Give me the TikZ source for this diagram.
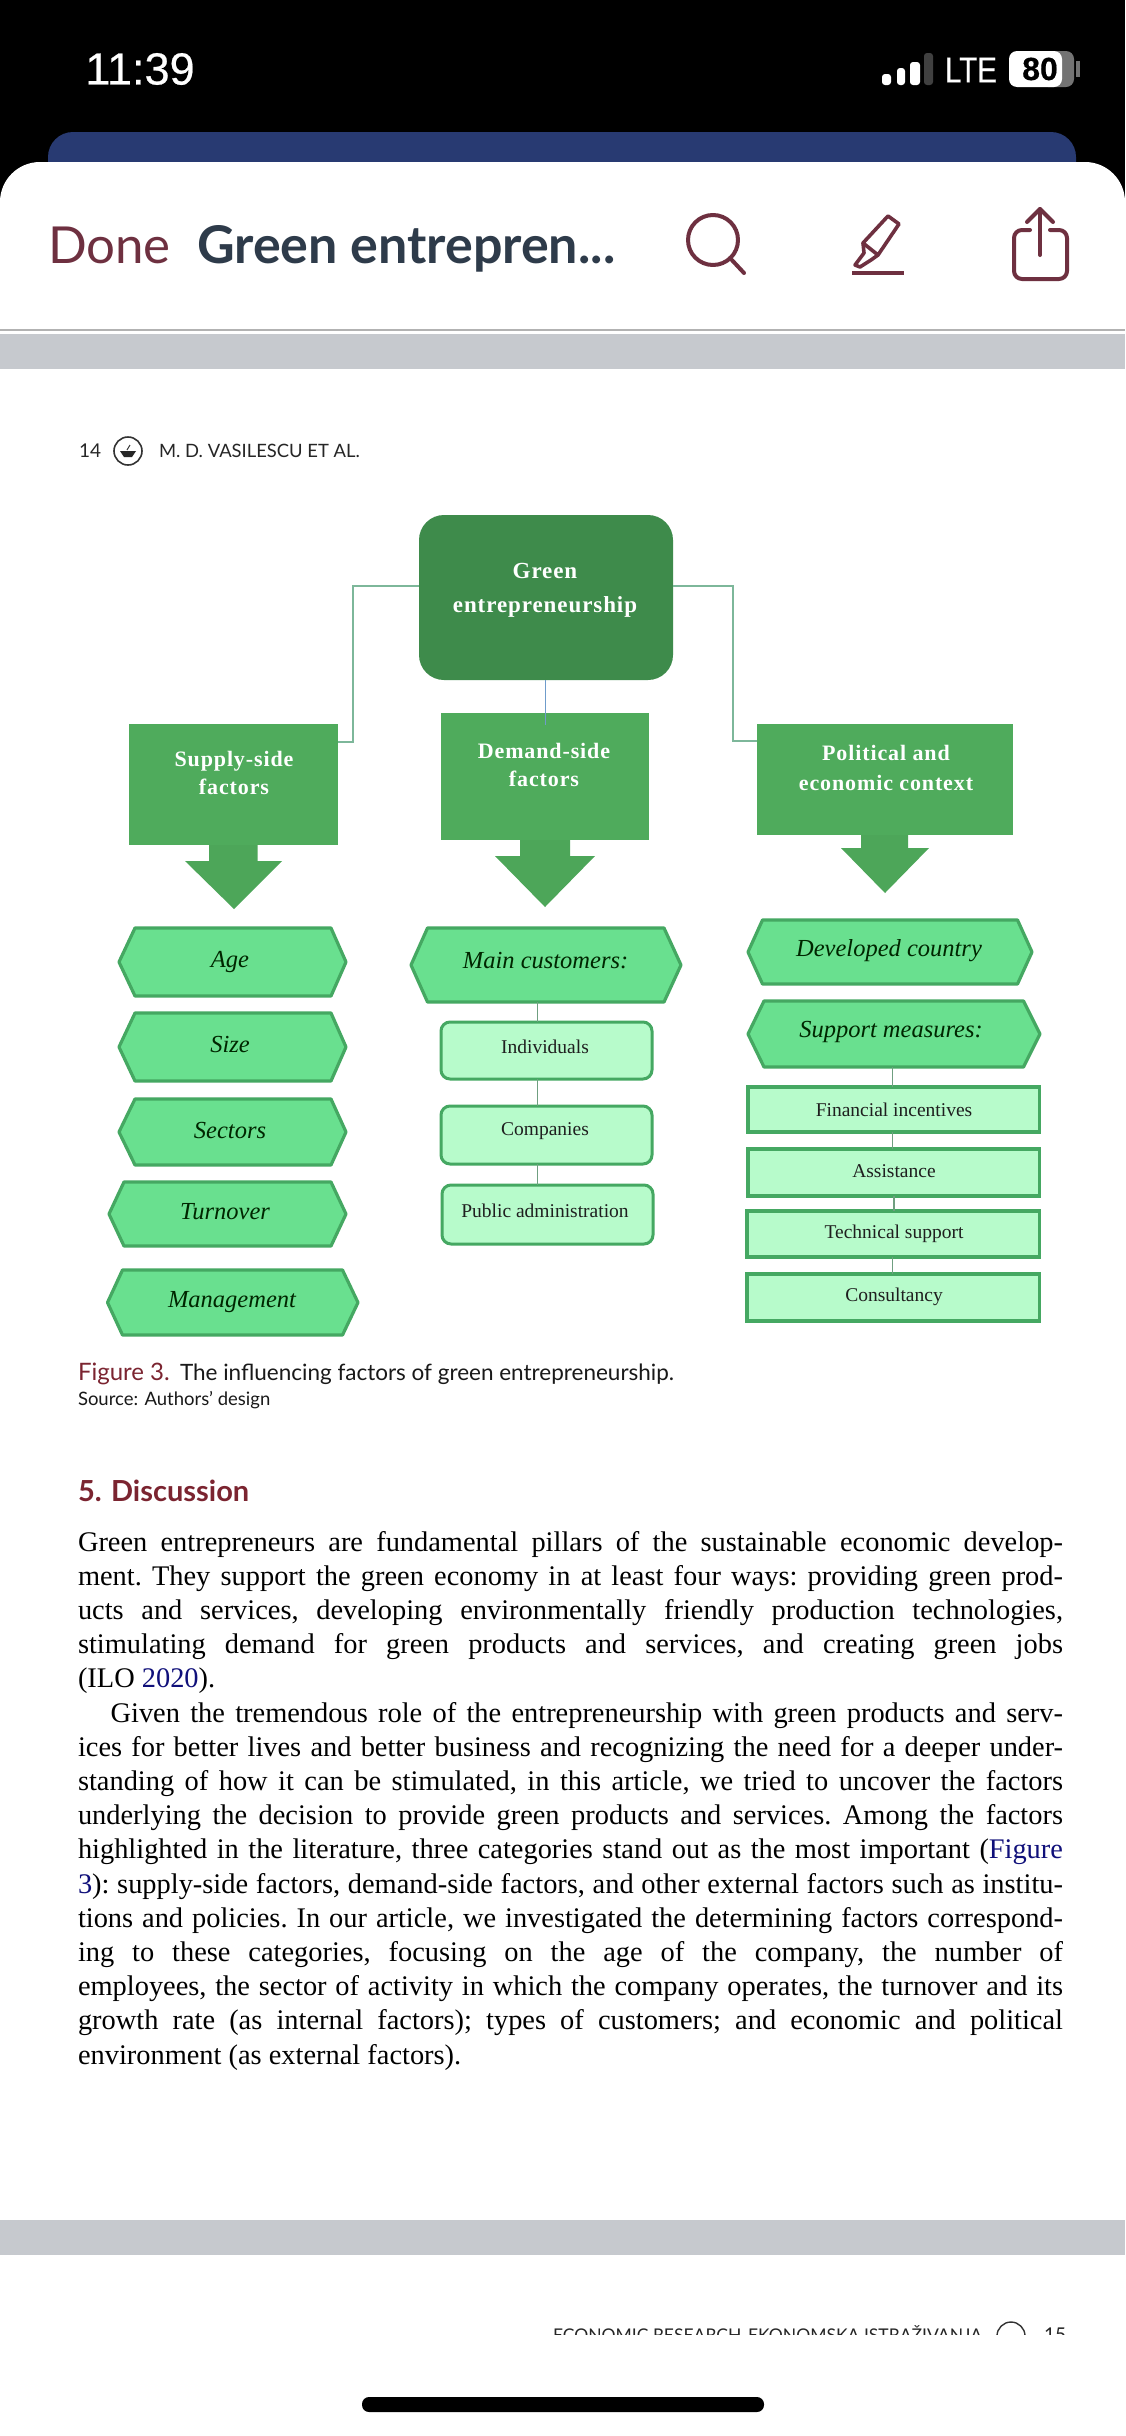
\documentclass[tikz,border=0pt]{standalone}
\usepackage{fontspec}
\setmainfont{Liberation Serif}
\newfontfamily\serS[LetterSpace=4]{Liberation Serif}
\newfontfamily\osans{Lato}
\newfontfamily\lsans[FakeBold=0.5]{Liberation Sans}
\newcommand{\fsz}[1]{\fontsize{#1}{#1}\selectfont}
\definecolor{maroonui}{HTML}{6E3040}
\definecolor{maroontx}{HTML}{7B2430}
\definecolor{titleink}{HTML}{2E3B4A}
\definecolor{navycard}{HTML}{283A72}
\definecolor{bandgray}{HTML}{C6C9CE}
\definecolor{rootgreen}{HTML}{3E8B4B}
\definecolor{midgreen}{HTML}{4FAB5C}
\definecolor{hexfill}{HTML}{69E08F}
\definecolor{hexline}{HTML}{45A862}
\definecolor{lightfill}{HTML}{B7FBCB}
\definecolor{linkgreen}{HTML}{7DB79A}
\definecolor{linkblue}{HTML}{6F9CCB}
\definecolor{linkdark}{HTML}{6F9F80}
\definecolor{refblue}{HTML}{10107A}
\tikzset{
  rootbox/.style={fill=rootgreen,rounded corners=25pt},
  factorbox/.style={fill=midgreen},
  arrowshape/.style={fill=midgreen!97!black},
  hexshape/.style={fill=hexfill,draw=hexline,line width=3.2pt,line join=round},
  softbox/.style={fill=lightfill,draw=hexline,line width=3pt,rounded corners=9pt},
  flatbox/.style={fill=lightfill,draw=hexline,line width=3.2pt},
  link/.style={draw=linkdark,line width=1.4pt},
  elbow/.style={draw=linkgreen,line width=2pt},
  headtext/.style={text=white,align=center,font=\serS\bfseries\fsz{22}},
  hextext/.style={text=black!85!green,font=\itshape\fsz{24.5}},
  subtext/.style={text=black!88,font=\fsz{19.5}},
  icon/.style={draw=maroonui,line width=4pt,line cap=round,line join=round},
  txt/.style={inner sep=0pt,outer sep=0pt,anchor=base west},
}
% name, left, right, top, bottom, style
\newcommand{\boxnode}[6]{%
  \pgfmathsetmacro{\bw}{#3-#2}\pgfmathsetmacro{\bh}{#5-#4}%
  \pgfmathsetmacro{\cxx}{(#2+#3)/2}\pgfmathsetmacro{\cyy}{(#4+#5)/2}%
  \node[#6,inner sep=0pt,outer sep=0pt,minimum width=\bw pt,minimum height=\bh pt] (#1) at (\cxx,\cyy) {};}
% name, left tip, left shoulder, right shoulder, right tip, top, bottom
\newcommand{\hexnode}[7]{%
  \pgfmathsetmacro{\cyy}{(#6+#7)/2}%
  \draw[hexshape] (#2,\cyy) -- (#3,#6) -- (#4,#6) -- (#5,\cyy) -- (#4,#7) -- (#3,#7) -- cycle;
  \boxnode{#1}{#2}{#5}{#6}{#7}{}}
\newcommand{\bline}[3]{\node[txt] (#1) at (78,#2) {\makebox[985pt][s]{\frenchspacing\fsz{28.4}#3}};}
\begin{document}
\begin{tikzpicture}[x=1pt,y=-1pt]
\useasboundingbox (0,0) rectangle (1125,2436);
% phone chrome
\fill[white] (0,0) rectangle (1125,2436);
\fill[black] (0,0) rectangle (1125,300);
\fill[navycard,rounded corners=25pt] (48,132) rectangle (1076,220);
\fill[white,rounded corners=40pt] (0,162) rectangle (1125,400);
\fill[white] (0,300) rectangle (1125,340);
\node[inner sep=0pt,text=white,font=\lsans\fsz{45}] (clock) at (140,69) {11:39};
\fill[white,rounded corners=3pt] (882,74) rectangle (891,85);
\fill[white,rounded corners=3pt] (897,68) rectangle (905,85);
\fill[white,rounded corners=3pt] (910,62) rectangle (920,85);
\fill[black!75,rounded corners=3pt] (924,53) rectangle (933,85);
\node[inner sep=0pt,text=white,font=\lsans\fsz{36}] (lte) at (971,70) {\scalebox{0.82}[1]{LTE}};
\fill[black!55,rounded corners=8pt] (1040,51) rectangle (1074,87);
\fill[white,rounded corners=8pt] (1009,51) rectangle (1062,87);
\fill[black!55] (1076,61) rectangle (1080,77);
\node[inner sep=0pt,text=black,font=\lsans\bfseries\fsz{32}] (batt) at (1040,69) {80};
\node[txt,text=maroonui,font=\osans\fsz{51}] (done) at (48,263) {Done};
\node[txt,text=titleink,font=\osans\bfseries\fsz{52}] (title) at (197,263) {Green entrepren...};
% search icon
\draw[icon] (713,240) circle (25pt);
\draw[icon] (730,258) -- (744,273);
% highlighter icon
\draw[icon,line width=3.6pt] (888,216) -- (899,224) -- (878,255) -- (863,243) -- cycle;
\draw[icon,line width=3.6pt] (863,243) -- (864,253) -- (855,265) -- (860,267) -- (871,260) -- (878,255);
\draw[icon,line cap=butt,line width=3.6pt] (852,273) -- (904,273);
% share icon
\draw[icon] (1030,230) -- (1022,230) to[out=180,in=90] (1014,238) -- (1014,271) to[out=-90,in=180] (1022,279) -- (1059,279) to[out=0,in=-90] (1067,271) -- (1067,238) to[out=90,in=0] (1059,230) -- (1050,230);
\draw[icon] (1040,255) -- (1040,209);
\draw[icon] (1027,222) -- (1040,209) -- (1053,222);
\fill[black!30] (0,329) rectangle (1125,331);
\fill[bandgray] (0,334) rectangle (1125,369);
\fill[bandgray] (0,2220) rectangle (1125,2255);
\fill[black,rounded corners=7pt] (362,2397) rectangle (764,2412);
% running head
\node[txt,font=\osans\fsz{19},text=black!85] (folio) at (79,457) {14};
\node[circle,draw=black!80,line width=1.6pt,minimum size=28pt,inner sep=0pt] (logo) at (128,451) {};
\fill[black!85] (120,451) -- (136,451) -- (132,457) -- (124,457) -- cycle;
\draw[black!80,line width=1pt] (127,450) -- (130,445);
\node[txt,font=\osans\fsz{18.4},text=black!85] (runhead) at (159,457) {M. D. VASILESCU ET AL.};
% diagram: connectors first
\boxnode{root}{419}{673}{515}{680}{rootbox}
\boxnode{supply}{129}{338}{724}{845}{factorbox}
\boxnode{demand}{441}{649}{713}{840}{factorbox}
\boxnode{context}{757}{1013}{724}{835}{factorbox}
\coordinate (ra) at (352.5,586);
\coordinate (rb) at (733,586);
\coordinate (sa) at (352.5,742);
\coordinate (ca) at (733,741);
\draw[elbow] (root.west |- ra) -- (ra) -- (sa) -- (supply.east |- sa);
\draw[elbow] (root.east |- rb) -- (rb) -- (ca) -- (context.west |- ca);
\coordinate (ma) at (545.6,725);
\draw[draw=linkblue,line width=1.2pt] (ma |- root.south) -- (ma);
% arrows
\fill[arrowshape] (209,845) -- (257.5,845) -- (257.5,861) -- (282,861) -- (234,909) -- (185,861) -- (209,861) -- cycle;
\fill[arrowshape] (520,840) -- (570,840) -- (570,856) -- (595,856) -- (545,907) -- (495,856) -- (520,856) -- cycle;
\fill[arrowshape] (861,835) -- (908,835) -- (908,848) -- (929,848) -- (885,893) -- (841,848) -- (861,848) -- cycle;
% heading texts
\node[headtext,font=\serS\bfseries\fsz{23}] (roott) at (545,590.5) {Green\\[11pt]entrepreneurship};
\node[headtext] (supplyt) at (234,773) {Supply-side\\[6pt]factors};
\node[headtext] (demandt) at (544,765) {Demand-side\\[6pt]factors};
\node[headtext] (contextt) at (886,768) {Political and\\[8pt]economic context};
% hexagons
\hexnode{age}{119}{135}{331}{346}{928}{996}
\node[hextext] (aget) at (230,962) {Age};
\hexnode{size}{119}{135}{331}{346}{1013}{1081}
\node[hextext] (sizet) at (230,1044) {Size};
\hexnode{sectors}{119}{135}{331}{346}{1099}{1165}
\node[hextext] (sectorst) at (230,1130) {Sectors};
\hexnode{turnover}{109}{124}{331}{346}{1182}{1246}
\node[hextext] (turnovert) at (225,1212) {Turnover};
\hexnode{management}{107.5}{122.5}{342.5}{358}{1270}{1335}
\node[hextext] (managementt) at (232,1302) {Management};
\hexnode{customers}{411}{427.5}{664}{681}{928}{1002}
\node[hextext] (customerst) at (545.6,961) {Main customers:};
\hexnode{developed}{748}{762.5}{1017.5}{1032}{920}{984}
\node[hextext] (developedt) at (889,951) {Developed country};
\hexnode{measures}{748}{764}{1023.5}{1040}{1001}{1067}
\node[hextext] (measurest) at (891,1032) {Support measures:};
% customers list
\boxnode{individuals}{441}{652}{1022}{1079}{softbox}
\boxnode{companies}{441}{652}{1106}{1164}{softbox}
\boxnode{publicadm}{442}{653}{1185}{1244}{softbox}
\node[subtext] (individualst) at (545,1047) {Individuals};
\node[subtext] (companiest) at (545,1131) {Companies};
\node[subtext] (publicadmt) at (545,1211) {Public administration};
\coordinate (cl) at (537.5,1000);
\draw[link] (cl |- customers.south) -- (cl |- individuals.north);
\draw[link] (cl |- individuals.south) -- (cl |- companies.north);
\draw[link] (cl |- companies.south) -- (cl |- publicadm.north);
% measures list
\boxnode{financial}{748}{1039.5}{1087}{1132}{flatbox}
\boxnode{assistance}{748}{1039.5}{1149}{1196}{flatbox}
\boxnode{technical}{747}{1039.5}{1211}{1257}{flatbox}
\boxnode{consultancy}{747}{1039.5}{1274}{1321}{flatbox}
\node[subtext] (financialt) at (894,1110) {Financial incentives};
\node[subtext] (assistancet) at (894,1171) {Assistance};
\node[subtext] (technicalt) at (894,1234) {Technical support};
\node[subtext] (consultancyt) at (894,1297) {Consultancy};
\coordinate (ml) at (892.5,1100);
\coordinate (mk) at (894,1200);
\draw[link] (ml |- measures.south) -- (ml |- financial.north);
\draw[link] (ml |- financial.south) -- (ml |- assistance.north);
\draw[link] (mk |- assistance.south) -- (mk |- technical.north);
\draw[link] (ml |- technical.south) -- (ml |- consultancy.north);
% caption
\node[txt,font=\osans\fsz{24},text=maroontx] (figlab) at (78,1380) {Figure 3.};
\node[txt,font=\osans\fsz{22.5},text=black!90] (figcap) at (180,1380) {The influencing factors of green entrepreneurship.};
\node[txt,font=\osans\fsz{18.5},text=black!90] (source) at (78,1405) {Source: Authors’ design};
\node[txt,font=\osans\bfseries\fsz{29},text=maroontx] (sect) at (78,1501) {5. Discussion};
% body text
\bline{l1}{1551}{Green entrepreneurs are fundamental pillars of the sustainable economic develop-}
\bline{l2}{1585.2}{ment. They support the green economy in at least four ways: providing green prod-}
\bline{l3}{1619.4}{ucts and services, developing environmentally friendly production technologies,}
\bline{l4}{1653.6}{stimulating demand for green products and services, and creating green jobs}
\node[txt] (l5) at (78,1687.8) {\fsz{28.4}(ILO \textcolor{refblue}{2020}).};
\node[txt] (l6) at (110.6,1722) {\makebox[952.4pt][s]{\frenchspacing\fsz{28.4}Given the tremendous role of the entrepreneurship with green products and serv-}};
\bline{l7}{1756.2}{ices for better lives and better business and recognizing the need for a deeper under-}
\bline{l8}{1790.4}{standing of how it can be stimulated, in this article, we tried to uncover the factors}
\bline{l9}{1824.6}{underlying the decision to provide green products and services. Among the factors}
\bline{l10}{1858.8}{highlighted in the literature, three categories stand out as the most important (\textcolor{refblue}{Figure}}
\bline{l11}{1893}{\textcolor{refblue}{3}): supply-side factors, demand-side factors, and other external factors such as institu-}
\bline{l12}{1927.2}{tions and policies. In our article, we investigated the determining factors correspond-}
\bline{l13}{1961.4}{ing to these categories, focusing on the age of the company, the number of}
\bline{l14}{1995.6}{employees, the sector of activity in which the company operates, the turnover and its}
\bline{l15}{2029.8}{growth rate (as internal factors); types of customers; and economic and political}
\node[txt] (l16) at (78,2064) {\frenchspacing\fsz{28.4}environment (as external factors).};
% clipped next page head
\begin{scope}
\clip (500,2300) rectangle (1125,2334);
\node[txt,font=\osans\fsz{17.5},text=black!85] (nexthead) at (553,2341) {ECONOMIC RESEARCH-EKONOMSKA ISTRAŽIVANJA};
\node[circle,draw=black!80,line width=1.4pt,minimum size=28pt,inner sep=0pt] (nextlogo) at (1011,2336) {};
\node[txt,font=\osans\fsz{19},text=black!85] (nextfolio) at (1044,2341) {15};
\end{scope}
\end{tikzpicture}
\end{document}
